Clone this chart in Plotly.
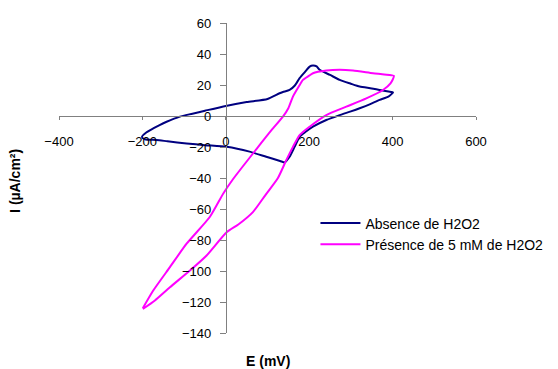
import plotly.graph_objects as go

# Cyclic voltammograms: potential E (mV) vs current density I (µA/cm²)
# Absence of H2O2: forward sweep from -200 mV to +400 mV, then back
E_abs = [-201, -190, -174, -160, -142, -110, -80, -50, 0, 50, 100, 129, 137, 153,
         165, 177, 190, 201, 209, 218, 225, 250, 273, 300, 321, 350, 369, 390, 401,
         390, 369, 345, 321, 300, 273, 241, 209, 190, 177, 165, 153, 145, 141, 130,
         97, 57, 2, -50, -94, -140, -166, -194, -201]
I_abs = [-13.5, -10.5, -8, -6, -3.7, -0.4, 1.5, 3.4, 6.5, 9, 11, 14.7, 15.5, 16.8,
         19.5, 24.4, 28.5, 31.9, 32.6, 32, 29.8, 26.5, 23.3, 20.8, 19, 17.8, 16.8, 15.8, 15.3,
         12.5, 10.4, 7.5, 5, 3, 0.6, -2.6, -6.9, -10.5, -13.4, -19.9, -26.3, -29, -30, -29,
         -26.3, -23, -19.9, -18.8, -17.7, -16.3, -15.5, -15, -13.5]

# Presence of 5 mM H2O2
E_pres = [-199, -174, -134, -94, -38, -6, 18, 73, 110, 137, 150, 161, 175, 185,
          200, 209, 241, 273, 305, 353, 380, 403,
          395, 377, 337, 289, 241, 201, 177, 161, 145, 125, 95, 65, 30, 2,
          -46, -86, -134, -170, -199]
I_pres = [-124, -112.6, -97.5, -82.4, -65, -50, -40.5, -21.5, -9, -0.4, 5, 12.5, 19, 23.3,
          26, 27.6, 29.3, 29.8, 29.3, 27.6, 26.8, 25.9,
          21, 16.8, 11.4, 6, 0.6, -6.9, -12.3, -19.9, -28.5, -40, -51, -62, -70, -75,
          -90, -99.7, -110.5, -119, -124.5]

x_ticks = [-400, -200, 0, 200, 400, 600]
y_ticks = [-140, -120, -100, -80, -60, -40, -20, 0, 20, 40, 60]
x_range = [-400, 600]
y_range = [-140, 60]

FONT = "Arial, Liberation Sans, sans-serif"
AXIS_GREY = "#808080"

fig = go.Figure()
fig.add_trace(go.Scatter(x=E_abs, y=I_abs, mode="lines", name="Absence de H2O2",
                         line=dict(color="#000080", width=2, shape="spline", smoothing=0.6)))
fig.add_trace(go.Scatter(x=E_pres, y=I_pres, mode="lines", name="Présence de 5 mM de H2O2",
                         line=dict(color="#FF00FF", width=2, shape="spline", smoothing=0.6)))

# axes cross at the origin
x_pos = (0 - y_range[0]) / (y_range[1] - y_range[0])
y_pos = (0 - x_range[0]) / (x_range[1] - x_range[0])

fig.update_layout(
    width=558, height=369,
    margin=dict(l=59, r=82, t=23, b=36, autoexpand=False),
    paper_bgcolor="white", plot_bgcolor="white",
    font=dict(family=FONT, size=13, color="black"),
    showlegend=True,
    legend=dict(x=0.615, y=0.405, xanchor="left", yanchor="top",
                font=dict(size=14, family=FONT), bgcolor="rgba(0,0,0,0)",
                itemwidth=40, tracegroupgap=0),
    xaxis=dict(range=x_range, tickvals=x_ticks, domain=[0, 1],
               anchor="free", position=x_pos,
               showgrid=False, zeroline=False, showline=True,
               linecolor=AXIS_GREY, linewidth=1,
               ticks="outside", ticklen=3, tickcolor=AXIS_GREY,
               ticklabelstandoff=10, tickfont=dict(size=13)),
    yaxis=dict(range=y_range, tickvals=y_ticks, domain=[0, 1],
               anchor="free", position=y_pos,
               showgrid=False, zeroline=False, showline=True,
               linecolor=AXIS_GREY, linewidth=1,
               ticks="outside", ticklen=6, tickcolor=AXIS_GREY,
               ticklabelstandoff=6, tickfont=dict(size=13)),
    annotations=[
        dict(text="<b>E (mV)</b>", xref="paper", yref="paper", x=0.5, y=-0.09,
             xanchor="center", yanchor="middle", showarrow=False,
             font=dict(size=14, family=FONT)),
        dict(text="<b>I (µA/cm²)</b>", xref="paper", yref="paper", x=-0.106, y=0.49,
             xanchor="center", yanchor="middle", showarrow=False, textangle=-90,
             font=dict(size=14, family=FONT)),
    ],
)

fig.write_html("out.html")
